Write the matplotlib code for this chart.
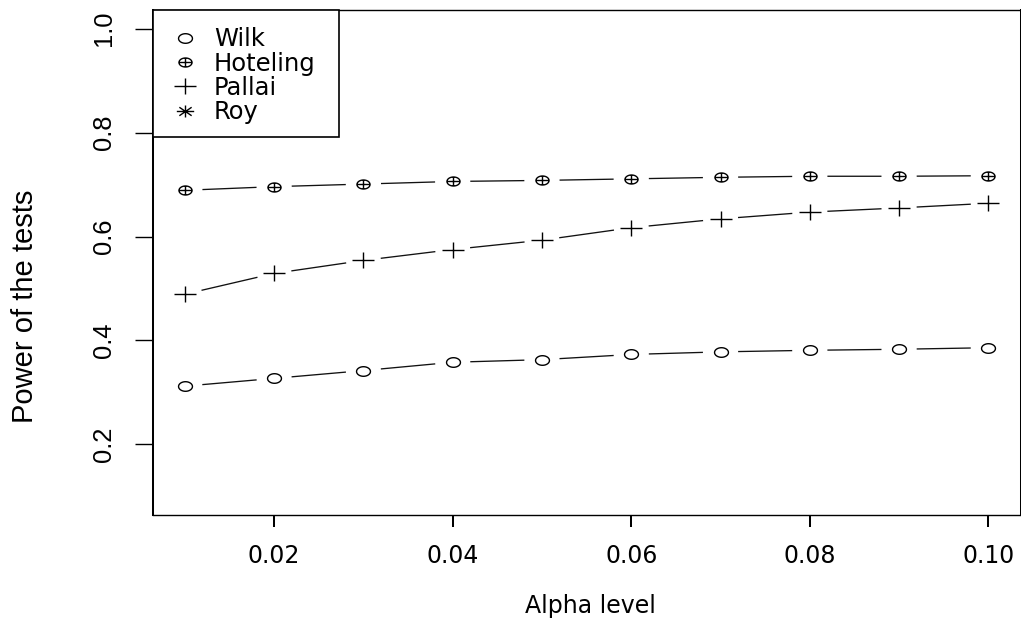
import numpy as np
import matplotlib
matplotlib.use("Agg")
import matplotlib.pyplot as plt
from matplotlib.path import Path
from matplotlib.patches import Rectangle
from matplotlib.transforms import Affine2D

# data
alpha = [0.01, 0.02, 0.03, 0.04, 0.05, 0.06, 0.07, 0.08, 0.09, 0.10]
wilk = [0.312, 0.327, 0.342, 0.358, 0.363, 0.373, 0.378, 0.381, 0.383, 0.386]
hoteling = [0.689, 0.696, 0.701, 0.706, 0.708, 0.711, 0.714, 0.716, 0.716, 0.717]
pallai = [0.489, 0.529, 0.554, 0.575, 0.593, 0.617, 0.634, 0.647, 0.655, 0.664]
legend_names = ["Wilk", "Hoteling", "Pallai", "Roy"]
xticks = [0.02, 0.04, 0.06, 0.08, 0.10]
xticklabels = ["0.02", "0.04", "0.06", "0.08", "0.10"]
yticks = [0.2, 0.4, 0.6, 0.8, 1.0]
yticklabels = ["0.2", "0.4", "0.6", "0.8", "1.0"]

W, H = 1021, 621
SX = 1.45  # the original R device looks stretched sideways

fig = plt.figure(figsize=(W / 100, H / 100), dpi=100)
ax = fig.add_axes([152.7 / W, 1 - 515 / H, (1020.5 - 152.7) / W, (515 - 10) / H])
# pixel coords with origin at top left
pix = Affine2D().scale(1, -1).translate(0, H)

# R style limits: 4% padding
ax.set_xlim(0.01 - 0.0036, 0.10 + 0.0036)
ax.set_ylim(0.1 - 0.036, 1.0 + 0.036)

# stretched marker shapes
t = np.linspace(0, 2 * np.pi, 64)
ring = Path(np.column_stack([SX * np.cos(t), np.sin(t)]), closed=True)
plus = Path([(-SX, 0), (SX, 0), (0, -1), (0, 1)],
            [Path.MOVETO, Path.LINETO, Path.MOVETO, Path.LINETO])
circplus = Path.make_compound_path(ring, plus)
c = 0.7071
star = Path([(-SX, 0), (SX, 0), (0, -1), (0, 1),
             (-SX * c, -c), (SX * c, c), (-SX * c, c), (SX * c, -c)],
            [Path.MOVETO, Path.LINETO] * 4)

styles = {
    "Wilk": dict(marker=ring, ms=10.0),
    "Hoteling": dict(marker=circplus, ms=9.4),
    "Pallai": dict(marker=plus, ms=15.8),
    "Roy": dict(marker=star, ms=12.5),
}


def gapped(xs, ys, gap=12.6):
    # type="b": segments stop short of the points
    pts = ax.transData.transform(np.column_stack([xs, ys]))
    out = []
    for p0, p1 in zip(pts[:-1], pts[1:]):
        d = p1 - p0
        L = np.hypot(d[0] / SX, d[1])
        if L <= 2 * gap:
            continue
        out += [p0 + d * gap / L, p1 - d * gap / L, [np.nan, np.nan]]
    out = ax.transData.inverted().transform(np.array(out))
    return out[:, 0], out[:, 1]


for name, ys in [("Wilk", wilk), ("Hoteling", hoteling), ("Pallai", pallai)]:
    gx, gy = gapped(alpha, ys)
    ax.plot(gx, gy, color="#111111", lw=0.95)
    ax.plot(alpha, ys, ls="none", mfc="none", mec="black", mew=1.0, **styles[name])

# axes look
for s in ["left", "right"]:
    ax.spines[s].set_linewidth(1.45)
for s in ["top", "bottom"]:
    ax.spines[s].set_linewidth(1.0)

ax.set_xticks(xticks)
ax.set_xticklabels(xticklabels, fontfamily="DejaVu Sans")
ax.set_yticks(yticks)
ax.set_yticklabels(yticklabels, fontfamily="Liberation Sans", rotation=90, va="center")
ax.tick_params(axis="x", length=8.6, width=1.45, pad=12.5, labelsize=17)
ax.tick_params(axis="y", length=13, width=1.0, pad=13.5, labelsize=18.4)

ax.set_xlabel("Alpha level", fontfamily="DejaVu Sans", fontsize=17)
ax.xaxis.set_label_coords(590, 613, transform=pix)
ax.xaxis.label.set_va("baseline")
ax.set_ylabel("Power of the tests", fontfamily="Liberation Sans", fontsize=21)
ax.yaxis.set_label_coords(39.4, 306.6, transform=pix)

# legend box, R style (points only)
box = Rectangle((152.7, 9.5), 186.6, 127.8, transform=pix, facecolor="white",
                edgecolor="black", lw=1.2, clip_on=False, zorder=5)
ax.add_patch(box)
for i, name in enumerate(legend_names):
    base = 46.5 + 24.2 * i
    ax.plot([185], [base - 8.5], transform=pix, ls="none", mfc="none", mec="black",
            mew=1.0, clip_on=False, zorder=6, **styles[name])
    ax.text(214, base, name, transform=pix, fontfamily="DejaVu Sans", fontsize=17.5,
            va="baseline", ha="left", zorder=6)

fig.savefig("out.png", dpi=100)
